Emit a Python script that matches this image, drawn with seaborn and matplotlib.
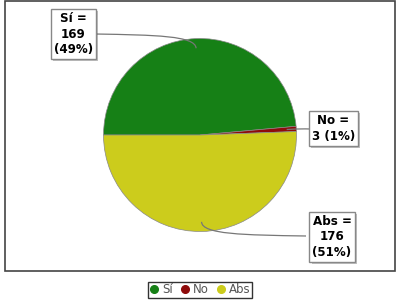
import numpy as np
import matplotlib
matplotlib.use("Agg")
import matplotlib.pyplot as plt
import seaborn as sns
from matplotlib.path import Path
from matplotlib.patches import PathPatch, Rectangle
from matplotlib.lines import Line2D
import matplotlib.patheffects as pe

categories = ["Sí", "No", "Abs"]
values = [169, 3, 176]
colors = ["#168016", "#8E0B0B", "#CCCC1C"]

sns.set_style("white")
plt.rcParams["font.family"] = ["DejaVu Sans"]

W, H = 400, 300
fig = plt.figure(figsize=(4, 3), dpi=100)
ax = fig.add_axes([0, 0, 1, 1])

# plot frame
ax.add_patch(Rectangle((5, H - 271), 390, 270, fill=False, edgecolor="#444444", lw=1.2))

cx, cy, R = 200, H - 135, 96.5
wedges, _ = ax.pie(values, colors=colors, startangle=180, counterclock=False,
                   center=(cx, cy), radius=R, frame=True,
                   wedgeprops=dict(edgecolor="#888888", linewidth=0.5))
ax.set_xlim(0, W)
ax.set_ylim(0, H)
ax.set_aspect("auto")
ax.axis("off")

total = sum(values)
pcts = [round(100 * v / total) for v in values]
texts = [f"{categories[0]} =\n{values[0]}\n({pcts[0]}%)",
         f"{categories[1]} =\n{values[1]} ({pcts[1]}%)",
         f"{categories[2]} =\n{values[2]}\n({pcts[2]}%)"]
# label box centres (pixels, y downward) and link anchors
label_pos = [(73.5, 34), (333.5, 128.5), (332, 237)]
anchor_pts = [(95, 34), (310, 129), (306, 236)]

for w, txt, (lx, ly), (axp, ayp) in zip(wedges, texts, label_pos, anchor_pts):
    mid = np.deg2rad((w.theta1 + w.theta2) / 2)
    u = np.array([np.cos(mid), np.sin(mid)])
    c = np.array([cx, cy])
    p0 = np.array([axp, H - ayp])
    p3 = c + 0.9 * R * u
    p2 = c + 1.03 * R * u
    p1 = p0 + 0.6 * (p2 - p0)
    path = Path([p0, p1, p2, p3], [Path.MOVETO, Path.CURVE4, Path.CURVE4, Path.CURVE4])
    ax.add_patch(PathPatch(path, fill=False, edgecolor="#777777", lw=0.9, zorder=3))
    t = ax.text(lx, H - ly, txt, ha="center", va="center", fontsize=8.6, fontweight="bold",
                color="black", linespacing=1.25, zorder=5,
                bbox=dict(boxstyle="square,pad=0.25", facecolor="white", edgecolor="#888888", lw=1))
    t.get_bbox_patch().set_path_effects([pe.SimplePatchShadow(offset=(1.5, -1.5), alpha=0.35),
                                         pe.Normal()])

handles = [Line2D([], [], marker="o", ls="none", markersize=5.5, markerfacecolor=col,
                  markeredgecolor=col) for col in colors]
leg = fig.legend(handles, categories, loc="lower center", bbox_to_anchor=(0.5, 0.0), ncol=3,
                 frameon=True, fancybox=False, fontsize=8.5, handlelength=0.8,
                 handletextpad=0.3, columnspacing=0.6, borderpad=0.15, borderaxespad=0.15)
leg.get_frame().set_edgecolor("black")
leg.get_frame().set_linewidth(1)
for t in leg.get_texts():
    t.set_color("#555555")

fig.savefig("out.png", dpi=100)
